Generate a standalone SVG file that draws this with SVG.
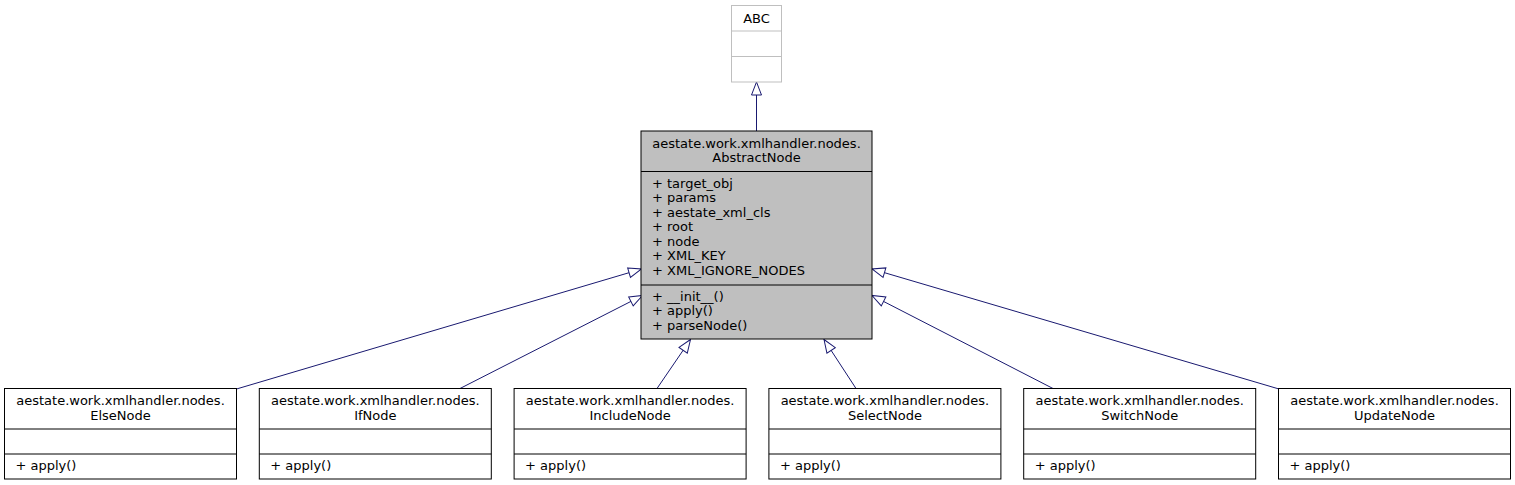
<svg xmlns="http://www.w3.org/2000/svg" width="1515" height="485" viewBox="0 0 1515 485">
<style>
text{font-family:"DejaVu Sans","Noto Sans",sans-serif;font-size:13px;fill:#000}
.c{text-anchor:middle}
.box{fill:#fff;stroke:#000;stroke-width:1}
.abs{fill:#bfbfbf;stroke:#000;stroke-width:1}
.grey{fill:#fff;stroke:#bfbfbf;stroke-width:1}
.sep{stroke:#000;stroke-width:1}
.gsep{stroke:#bfbfbf;stroke-width:1}
.edge{fill:none;stroke:#191970;stroke-width:1;marker-end:url(#tri)}
</style>
<defs>
<marker id="tri" markerUnits="userSpaceOnUse" orient="auto" refX="0" refY="0" markerWidth="16" markerHeight="14" viewBox="-15 -7 16 14" overflow="visible">
<polygon points="-13,-5 0,0 -13,5" fill="#fff" stroke="#191970" stroke-width="1"/>
</marker>
</defs>
<rect width="1515" height="485" fill="#fff"/>
<g id="connectors">
<path class="edge" d="M756.5,131 L756.5,82"/>
<path class="edge" d="M236.5,389 L641.5,269"/>
<path class="edge" d="M460,388.5 L642.5,295.5"/>
<path class="edge" d="M657,388.5 L690.5,339.5"/>
<path class="edge" d="M856,388.5 L824,339.5"/>
<path class="edge" d="M1053,388.5 L872,295.5"/>
<path class="edge" d="M1279,389 L872,269"/>
</g>
<g id="ABC">
<rect class="grey" x="731.5" y="5.5" width="50" height="76.5"/>
<line class="gsep" x1="731.5" y1="31" x2="781.5" y2="31"/>
<line class="gsep" x1="731.5" y1="56.5" x2="781.5" y2="56.5"/>
<text class="c" x="756.5" y="22.5">ABC</text>
</g>
<g id="AbstractNode">
<rect class="abs" x="641" y="131" width="231" height="208"/>
<line class="sep" x1="641" y1="171.5" x2="872" y2="171.5"/>
<line class="sep" x1="641" y1="285" x2="872" y2="285"/>
<text class="c" x="756.5" y="147.5">aestate.work.xmlhandler.nodes.</text>
<text class="c" x="756.5" y="162">AbstractNode</text>
<text x="652" y="187.5">+ target_obj</text>
<text x="652" y="202">+ params</text>
<text x="652" y="216.5">+ aestate_xml_cls</text>
<text x="652" y="231">+ root</text>
<text x="652" y="245.5">+ node</text>
<text x="652" y="260">+ XML_KEY</text>
<text x="652" y="274.5">+ XML_IGNORE_NODES</text>
<text x="652" y="300.5">+ __init__()</text>
<text x="652" y="315">+ apply()</text>
<text x="652" y="329.5">+ parseNode()</text>
</g>
<g id="ElseNode">
<rect class="box" x="4.5" y="388.5" width="232" height="90.5"/>
<line class="sep" x1="4.5" y1="429" x2="236.5" y2="429"/>
<line class="sep" x1="4.5" y1="454" x2="236.5" y2="454"/>
<text class="c" x="120.5" y="405">aestate.work.xmlhandler.nodes.</text>
<text class="c" x="120.5" y="419.5">ElseNode</text>
<text x="15.5" y="469.5">+ apply()</text>
</g>
<g id="IfNode">
<rect class="box" x="259.3" y="388.5" width="232" height="90.5"/>
<line class="sep" x1="259.3" y1="429" x2="491.3" y2="429"/>
<line class="sep" x1="259.3" y1="454" x2="491.3" y2="454"/>
<text class="c" x="375.3" y="405">aestate.work.xmlhandler.nodes.</text>
<text class="c" x="375.3" y="419.5">IfNode</text>
<text x="270.3" y="469.5">+ apply()</text>
</g>
<g id="IncludeNode">
<rect class="box" x="514.1" y="388.5" width="232" height="90.5"/>
<line class="sep" x1="514.1" y1="429" x2="746.1" y2="429"/>
<line class="sep" x1="514.1" y1="454" x2="746.1" y2="454"/>
<text class="c" x="630.1" y="405">aestate.work.xmlhandler.nodes.</text>
<text class="c" x="630.1" y="419.5">IncludeNode</text>
<text x="525.1" y="469.5">+ apply()</text>
</g>
<g id="SelectNode">
<rect class="box" x="768.9" y="388.5" width="232" height="90.5"/>
<line class="sep" x1="768.9" y1="429" x2="1000.9" y2="429"/>
<line class="sep" x1="768.9" y1="454" x2="1000.9" y2="454"/>
<text class="c" x="884.9" y="405">aestate.work.xmlhandler.nodes.</text>
<text class="c" x="884.9" y="419.5">SelectNode</text>
<text x="779.9" y="469.5">+ apply()</text>
</g>
<g id="SwitchNode">
<rect class="box" x="1023.7" y="388.5" width="232" height="90.5"/>
<line class="sep" x1="1023.7" y1="429" x2="1255.7" y2="429"/>
<line class="sep" x1="1023.7" y1="454" x2="1255.7" y2="454"/>
<text class="c" x="1139.7" y="405">aestate.work.xmlhandler.nodes.</text>
<text class="c" x="1139.7" y="419.5">SwitchNode</text>
<text x="1034.7" y="469.5">+ apply()</text>
</g>
<g id="UpdateNode">
<rect class="box" x="1278.5" y="388.5" width="232" height="90.5"/>
<line class="sep" x1="1278.5" y1="429" x2="1510.5" y2="429"/>
<line class="sep" x1="1278.5" y1="454" x2="1510.5" y2="454"/>
<text class="c" x="1394.5" y="405">aestate.work.xmlhandler.nodes.</text>
<text class="c" x="1394.5" y="419.5">UpdateNode</text>
<text x="1289.5" y="469.5">+ apply()</text>
</g>
</svg>
